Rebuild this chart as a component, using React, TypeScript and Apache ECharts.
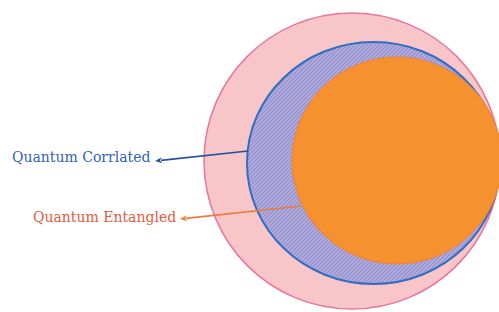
import React, { useEffect, useRef } from "react";
import * as echarts from "echarts";

const labels = ["Quantum Corrlated", "Quantum Entangled"];
const labelColors = ["#3462b4", "#e4593f"];
const arrowColors = ["#22519f", "#ec7a3c"];

function makeHatch(): HTMLCanvasElement {
  const c = document.createElement("canvas");
  c.width = 8;
  c.height = 8;
  const ctx = c.getContext("2d")!;
  ctx.fillStyle = "#b0acdc";
  ctx.fillRect(0, 0, 8, 8);
  ctx.strokeStyle = "#958fcd";
  ctx.lineWidth = 1.1;
  ctx.beginPath();
  for (let k = -8; k <= 16; k += 4) {
    ctx.moveTo(k, 8);
    ctx.lineTo(k + 8, 0);
  }
  ctx.stroke();
  return c;
}

function arrow(x1: number, y1: number, x2: number, y2: number, color: string) {
  const dx = x2 - x1;
  const dy = y2 - y1;
  const len = Math.sqrt(dx * dx + dy * dy);
  const ux = dx / len;
  const uy = dy / len;
  const hl = 7;
  const hw = 3;
  const bx = x1 + ux * hl;
  const by = y1 + uy * hl;
  return [
    {
      type: "line",
      shape: { x1: bx - ux * 1, y1: by - uy * 1, x2, y2 },
      style: { stroke: color, lineWidth: 1.6 },
      z: 20,
    },
    {
      type: "polygon",
      shape: {
        points: [
          [x1, y1],
          [bx - uy * hw, by + ux * hw],
          [bx - ux * 2, by - uy * 2],
          [bx + uy * hw, by - ux * hw],
        ],
      },
      style: { fill: color },
      z: 20,
    },
  ];
}

const FONT = "DejaVu Serif";

export default function App() {
  const ref = useRef<HTMLDivElement>(null);
  useEffect(() => {
    if (!ref.current) return;
    const chart = echarts.init(ref.current, null, { renderer: "svg" });
    const hatch = makeHatch();
    chart.setOption({
      animation: false,
      backgroundColor: "#ffffff",
      graphic: [
        {
          type: "ellipse",
          shape: { cx: 352, cy: 161, rx: 148, ry: 148 },
          style: { fill: "#f8c5c8", stroke: "#e8769d", lineWidth: 1.5 },
          z: 1,
        },
        {
          type: "ellipse",
          shape: { cx: 373.5, cy: 163, rx: 126.5, ry: 121 },
          style: {
            fill: { image: hatch, repeat: "repeat", imageWidth: 8, imageHeight: 8 },
            stroke: "#2f6fbf",
            lineWidth: 2,
          },
          z: 2,
        },
        {
          type: "ellipse",
          shape: { cx: 397, cy: 160.5, rx: 105, ry: 103.5 },
          style: { fill: "#f5912f", stroke: "#ef7f3a", lineWidth: 1 },
          z: 3,
        },
        ...arrow(155, 161, 248, 151, arrowColors[0]),
        ...arrow(180, 219, 301, 206, arrowColors[1]),
        {
          type: "text",
          x: 12,
          y: 157,
          style: {
            text: labels[0],
            fill: labelColors[0],
            fontFamily: FONT,
            fontSize: 14,
            verticalAlign: "middle",
          },
          z: 30,
        },
        {
          type: "text",
          x: 33,
          y: 216.5,
          style: {
            text: labels[1],
            fill: labelColors[1],
            fontFamily: FONT,
            fontSize: 14,
            verticalAlign: "middle",
          },
          z: 30,
        },
      ],
    });
    return () => chart.dispose();
  }, []);
  return (
    <div
      ref={ref}
      style={{ position: "fixed", left: 0, top: 0, width: 499, height: 312 }}
    />
  );
}
